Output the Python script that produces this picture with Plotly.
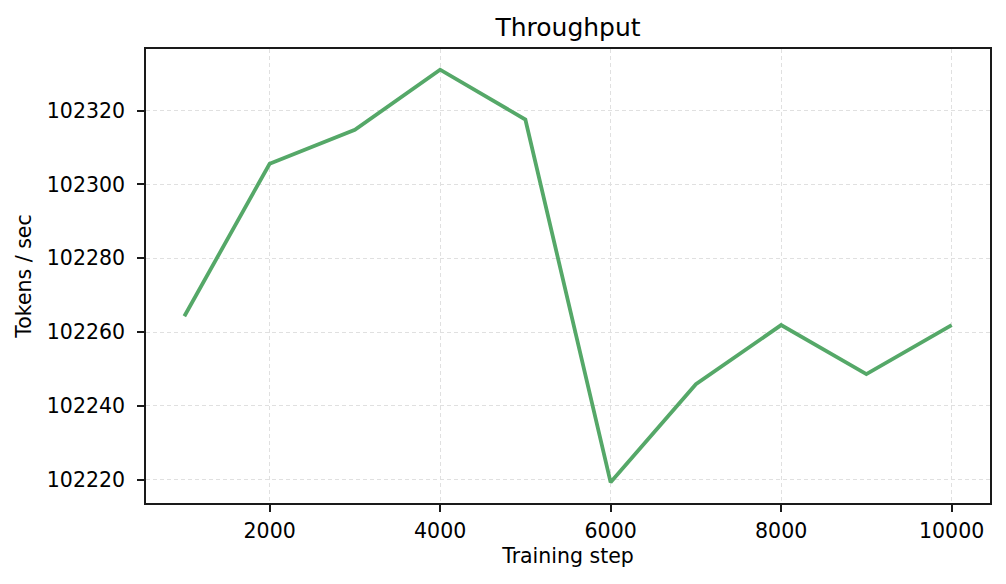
import plotly.graph_objects as go

# training steps and measured throughput
steps = [1000, 2000, 3000, 4000, 5000, 6000, 7000, 8000, 9000, 10000]
tokens_per_sec = [102264.3, 102305.6, 102314.8, 102331.1, 102317.6,
                  102219.3, 102245.9, 102261.9, 102248.6, 102261.9]

x_ticks = [2000, 4000, 6000, 8000, 10000]
y_ticks = [102220, 102240, 102260, 102280, 102300, 102320]

FONT = "DejaVu Sans"

fig = go.Figure()
fig.add_trace(go.Scatter(
    x=steps, y=tokens_per_sec, mode="lines",
    line=dict(color="#55a868", width=3.8),
    showlegend=False,
))

axis_common = dict(
    showline=True, linecolor="#1a1a1a", linewidth=1.6, mirror=True,
    ticks="outside", ticklen=7, tickwidth=1.6, tickcolor="#1a1a1a",
    showgrid=True, gridcolor="#e0e0e0", gridwidth=1, griddash="4px,3px",
    zeroline=False, tickformat="d",
    tickfont=dict(family=FONT, size=20.5, color="black"),
)

fig.update_xaxes(
    range=[550, 10450], tickvals=x_ticks, ticklabelstandoff=2,
    title=dict(text="Training step", font=dict(family=FONT, size=20.5, color="black"), standoff=6),
    **axis_common,
)
fig.update_yaxes(
    range=[102213.7, 102336.7], tickvals=y_ticks, ticklabelstandoff=8,
    title=dict(text="Tokens / sec", font=dict(family=FONT, size=20.5, color="black"), standoff=10),
    **axis_common,
)

fig.update_layout(
    width=1006, height=584,
    margin=dict(l=146, r=16, t=49, b=81),
    paper_bgcolor="white", plot_bgcolor="white",
    title=dict(text="Throughput", x=0.5, xanchor="center", xref="paper",
               y=1 - 27 / 584, yanchor="middle",
               font=dict(family=FONT, size=25, color="black")),
)

# page has a default body margin; drop it so the figure sits at 0,0
fig.write_html("out.html", config={"displayModeBar": False},
               post_script="document.body.style.margin='0';")
